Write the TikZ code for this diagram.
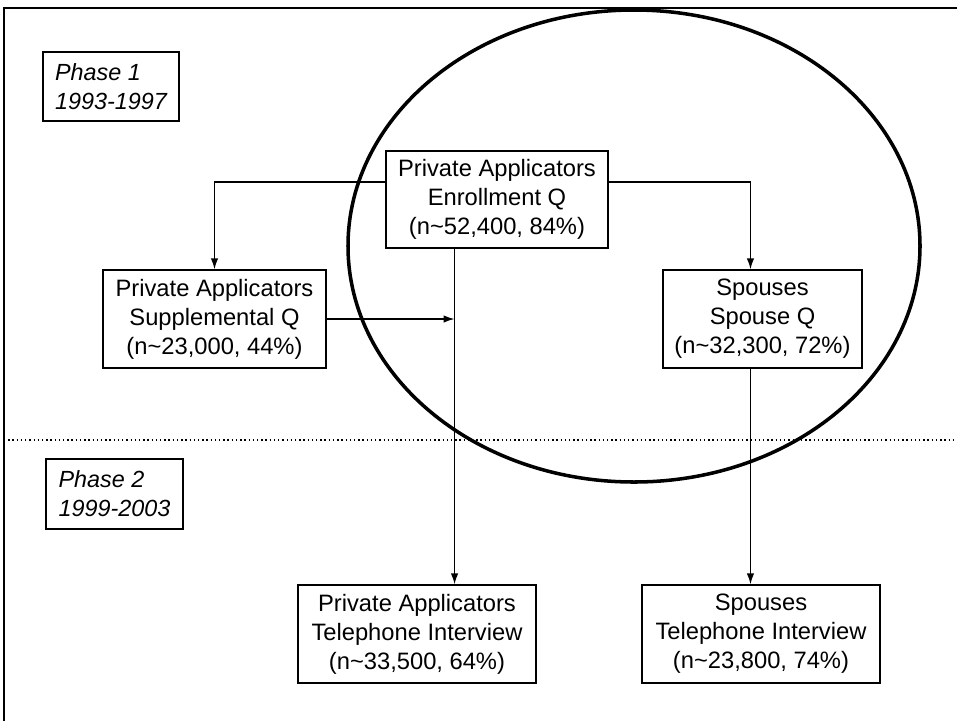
\documentclass[tikz,border=0pt]{standalone}
\usepackage{fontspec}
\setmainfont{Liberation Sans}
\usetikzlibrary{calc, positioning, arrows.meta}

\tikzset{
    box/.style={draw, line width=0.8pt, align=center, inner sep=0pt,
        font=\fontsize{13.5}{16.5}\selectfont},
    phasebox/.style={draw, line width=0.8pt, align=left, inner sep=0pt,
        font=\fontsize{13.3}{16.5}\selectfont\itshape},
    link/.style={-{Latex[length=2.2mm, width=1.5mm]}, line width=0.8pt}
}

\begin{document}
\begin{tikzpicture}[x=0.02cm, y=-0.02cm]
        \useasboundingbox (0, 0) rectangle (957, 721);

        % Frame
        \draw[line width=1.1pt] (4, 721) -- (4, 8) -- (957, 8);

        % Dotted line between the two phases
        \draw[line width=0.8pt, dash pattern=on 0.8pt off 1.6pt] (4, 440) -- (957, 440);

        % Phase labels
        \node[phasebox, minimum width=2.72cm, minimum height=1.38cm] (ph1) at (111, 86.5) {Phase 1\\1993-1997};
        \node[phasebox, minimum width=2.74cm, minimum height=1.4cm] (ph2) at (114.5, 494) {Phase 2\\1999-2003};

        % Questionnaires
        \node[box, minimum width=4.44cm, minimum height=1.94cm] (enroll) at (497, 199.5)
            {Private Applicators\\Enrollment Q\\(n\textasciitilde 52,400, 84\%)};
        \node[box, minimum width=4.46cm, minimum height=1.96cm] (supp) at (214.5, 319)
            {Private Applicators\\Supplemental Q\\(n\textasciitilde 23,000, 44\%)};
        \node[box, minimum width=3.98cm, minimum height=1.96cm] (spouse) at (762.5, 319)
            {Spouses\\Spouse Q\\(n\textasciitilde 32,300, 72\%)};

        % Telephone interviews
        \node[box, minimum width=4.76cm, minimum height=1.96cm] (telpa) at (417, 634)
            {Private Applicators\\Telephone Interview\\(n\textasciitilde 33,500, 64\%)};
        \node[box, minimum width=4.76cm, minimum height=1.96cm] (telsp) at (761, 634)
            {Spouses\\Telephone Interview\\(n\textasciitilde 23,800, 74\%)};

        % Ellipse round phase 1
        \draw[line width=2pt] (634, 246) ellipse (286 and 236);

        % Connectors
        \coordinate (eleft) at ($(enroll.north west)!0.32!(enroll.south west)$);
        \coordinate (eright) at ($(enroll.north east)!0.32!(enroll.south east)$);
        \coordinate (edown) at ($(enroll.south west)!0.31!(enroll.south east)$);
        \coordinate (sdown) at ($(spouse.south west)!0.44!(spouse.south east)$);

        \draw[link] (eleft) -| (supp.north);
        \draw[link] (eright) -| (spouse.north -| sdown);
        \draw[link] (edown) -- (edown |- telpa.north);
        \draw[link] (supp.east) -- (supp.east -| edown);
        \draw[link] (sdown) -- (sdown |- telsp.north);

    \end{tikzpicture}
\end{document}
